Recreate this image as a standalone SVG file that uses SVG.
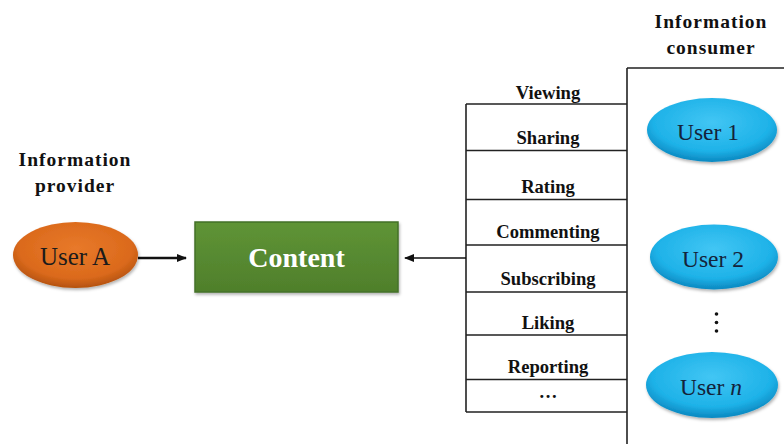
<svg xmlns="http://www.w3.org/2000/svg" width="784" height="444" viewBox="0 0 784 444">
  <style>
    .hdr { font-family: "Liberation Serif", "Times New Roman", serif; font-weight: bold; font-size: 19.5px; letter-spacing: 1px; fill: #111; text-anchor: middle; }
    .act { font-family: "Liberation Serif", "Times New Roman", serif; font-weight: bold; font-size: 18.6px; fill: #111; text-anchor: middle; }
    .usr { font-family: "Liberation Serif", "Times New Roman", serif; font-size: 25px; fill: #1b1b1b; text-anchor: middle; }
    .usrb { font-family: "Liberation Serif", "Times New Roman", serif; font-size: 23.5px; fill: #14233a; text-anchor: middle; }
    .rule { stroke: #222; stroke-width: 1.6; fill: none; }
    .conn { stroke: #111; fill: none; }
  </style>
  <defs>
    <radialGradient id="orangeFill" cx="50%" cy="40%" r="60%">
      <stop offset="0%" stop-color="#e8792a"/>
      <stop offset="75%" stop-color="#db6a1c"/>
      <stop offset="100%" stop-color="#b4520f"/>
    </radialGradient>
    <radialGradient id="blueFill" cx="50%" cy="38%" r="60%">
      <stop offset="0%" stop-color="#42c6f4"/>
      <stop offset="75%" stop-color="#1eb2e8"/>
      <stop offset="100%" stop-color="#0d8cc4"/>
    </radialGradient>
    <linearGradient id="greenFill" x1="0" y1="0" x2="0" y2="1">
      <stop offset="0%" stop-color="#5f9436"/>
      <stop offset="100%" stop-color="#4f7f2b"/>
    </linearGradient>
    <filter id="soft" x="-20%" y="-20%" width="140%" height="150%">
      <feDropShadow dx="1" dy="2" stdDeviation="1.6" flood-color="#000" flood-opacity="0.3"/>
    </filter>
    <marker id="head" viewBox="0 0 10 10" refX="9" refY="5" markerWidth="10" markerHeight="10" markerUnits="userSpaceOnUse" orient="auto">
      <path d="M0,1 L10,5 L0,9 Z" fill="#111"/>
    </marker>
  </defs>

  <!-- column headers -->
  <text class="hdr" x="75" y="166">Information</text>
  <text class="hdr" x="75" y="192">provider</text>
  <text class="hdr" x="711" y="28">Information</text>
  <text class="hdr" x="711" y="54">consumer</text>

  <!-- interaction table -->
  <g id="actions">
    <path class="rule" d="M627,68 H784 M627,68 V444"/>
    <path class="rule" d="M466,104 V412"/>
    <path class="rule" d="M466,104 H627 M466,150.5 H627 M466,199.5 H627 M466,245 H627 M466,292 H627 M466,335 H627 M466,379.5 H627 M466,412 H627"/>
    <text class="act" x="548" y="99">Viewing</text>
    <text class="act" x="548" y="144">Sharing</text>
    <text class="act" x="548" y="193">Rating</text>
    <text class="act" x="548" y="238">Commenting</text>
    <text class="act" x="548" y="285">Subscribing</text>
    <text class="act" x="548" y="329">Liking</text>
    <text class="act" x="548" y="373">Reporting</text>
    <text class="act" x="548" y="398">…</text>
  </g>

  <!-- connectors -->
  <g id="connectors">
    <line class="conn" stroke-width="2.6" x1="138" y1="258" x2="186" y2="258" marker-end="url(#head)"/>
    <line class="conn" stroke-width="1.6" x1="466" y1="258" x2="405" y2="258" marker-end="url(#head)"/>
  </g>

  <g id="userA">
    <ellipse cx="75.5" cy="255" rx="62.5" ry="33" fill="url(#orangeFill)" filter="url(#soft)"/>
    <text class="usr" x="75" y="265">User A</text>
  </g>

  <g id="content">
    <rect x="195" y="222" width="203" height="70" fill="url(#greenFill)" stroke="#44702a" stroke-width="1.5" filter="url(#soft)"/>
    <text x="296.5" y="267" font-family="Liberation Serif, Times New Roman, serif" font-weight="bold" font-size="28px" fill="#fff" text-anchor="middle">Content</text>
  </g>

  <g id="user1">
    <ellipse cx="712" cy="130" rx="65" ry="32" fill="url(#blueFill)" filter="url(#soft)"/>
    <text class="usrb" x="708" y="140">User 1</text>
  </g>

  <g id="user2">
    <ellipse cx="714" cy="257" rx="64" ry="32.5" fill="url(#blueFill)" filter="url(#soft)"/>
    <text class="usrb" x="713" y="267">User 2</text>
  </g>

  <g id="more-users">
    <circle cx="716.5" cy="314" r="1.8" fill="#111"/>
    <circle cx="716.5" cy="322.5" r="1.8" fill="#111"/>
    <circle cx="716.5" cy="331" r="1.8" fill="#111"/>
  </g>

  <g id="userN">
    <ellipse cx="712" cy="385" rx="66" ry="33" fill="url(#blueFill)" filter="url(#soft)"/>
    <text class="usrb" x="711" y="395">User <tspan font-style="italic">n</tspan></text>
  </g>
</svg>
